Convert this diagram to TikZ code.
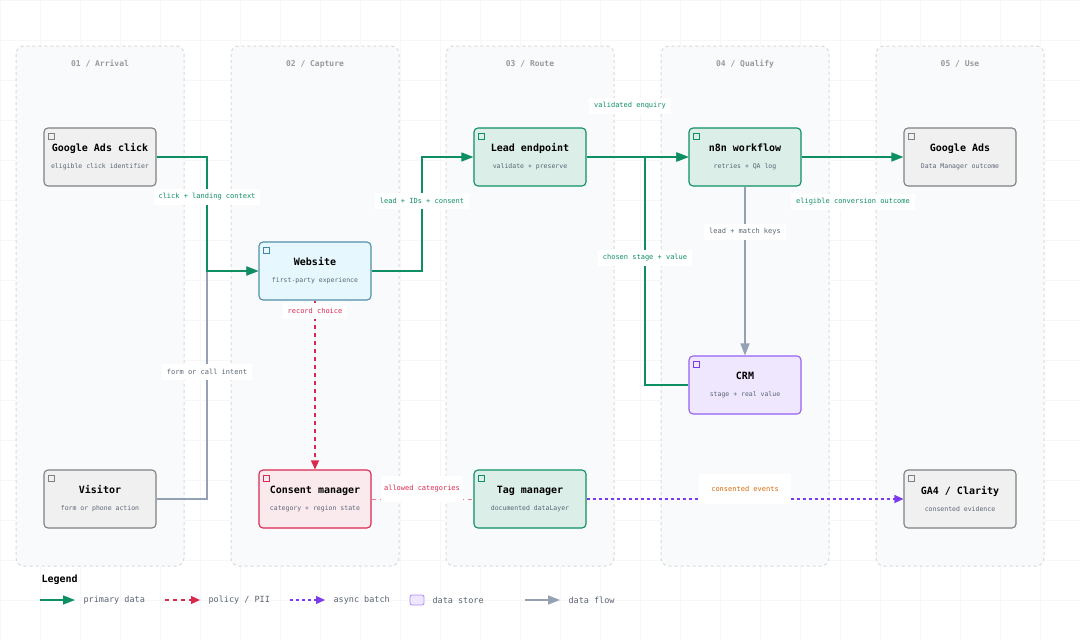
\documentclass[tikz,border=0pt]{standalone}
\usepackage{fontspec}
\setmainfont{DejaVu Sans Mono}
\usetikzlibrary{arrows.meta}
\definecolor{grn}{HTML}{0E8F62}
\definecolor{gry}{HTML}{94A0B4}
\definecolor{rd}{HTML}{D9294F}
\definecolor{pur}{HTML}{7C3AED}
\definecolor{org}{HTML}{D96A0B}
\definecolor{lanefill}{HTML}{F8FAFC}
\definecolor{sub}{HTML}{5B6474}
\tikzset{x=1pt,y=-1pt,
 lane/.style={draw=black!15,dashed,fill=lanefill,rounded corners=8pt,line width=1pt},
 lanet/.style={font=\fontsize{8}{9}\selectfont\bfseries,text=gray!80},
 box/.style={rounded corners=4pt,line width=1.1pt,minimum width=112pt,minimum height=58pt,align=center,inner sep=0pt},
 gbox/.style={box,draw=gray!75!black!80,fill=gray!12},
 wbox/.style={box,draw=cyan!60!black!90,fill=cyan!10},
 ebox/.style={box,draw=grn,fill=grn!15},
 rbox/.style={box,draw=rd,fill=rd!10},
 pbox/.style={box,draw=pur!80,fill=pur!12},
 lab/.style={fill=white,inner sep=5pt,font=\fontsize{7}{8}\selectfont},
 pri/.style={draw=grn,line width=1.4pt,-{Triangle[length=12pt,width=9pt]}},
 flow/.style={draw=gry,line width=1.3pt,-{Triangle[length=12pt,width=9pt]}},
 pol/.style={draw=rd,line width=1.2pt,dash pattern=on 4pt off 4pt,-{Triangle[length=9pt,width=8pt]}},
 asy/.style={draw=pur,line width=1.2pt,dash pattern=on 3pt off 3pt,-{Triangle[length=9pt,width=8pt]}},
}
\newcommand{\bx}[6]{\node[#1] (#2) at (#3) {\\[-4pt]{\fontsize{10}{12}\selectfont\bfseries #4}\\[5pt]{\fontsize{6.5}{7}\selectfont\color{sub}#5}};
 \draw[#6,line width=0.6pt] ([xshift=5pt,yshift=-6pt]#2.north west) rectangle ++(6,6);}
\begin{document}
\begin{tikzpicture}
\useasboundingbox (0,0) rectangle (1080,640);
\fill[white] (0,0) rectangle (1080,640);
\foreach \i in {0,40,...,1080} \draw[black!3,line width=0.5pt] (\i,0) -- (\i,640);
\foreach \i in {0,40,...,640} \draw[black!3,line width=0.5pt] (0,\i) -- (1080,\i);
\foreach \x/\n in {16/{01 / Arrival},231/{02 / Capture},446/{03 / Route},661/{04 / Qualify},876/{05 / Use}}{
 \draw[lane] (\x,46) rectangle ++(168,520);
 \node[lanet] at (\x+84,64) {\n};}
\bx{gbox}{gac}{100,157}{Google Ads click}{eligible click identifier}{gray}
\bx{wbox}{web}{315,271}{Website}{first-party experience}{cyan!60!black}
\bx{ebox}{lead}{530,157}{Lead endpoint}{validate + preserve}{grn}
\bx{ebox}{n8n}{745,157}{n8n workflow}{retries + QA log}{grn}
\bx{gbox}{gads}{960,157}{Google Ads}{Data Manager outcome}{gray}
\bx{pbox}{crm}{745,385}{CRM}{stage + real value}{pur}
\bx{gbox}{vis}{100,499}{Visitor}{form or phone action}{gray}
\bx{rbox}{con}{315,499}{Consent manager}{category + region state}{rd}
\bx{ebox}{tag}{530,499}{Tag manager}{documented dataLayer}{grn}
\bx{gbox}{ga4}{960,499}{GA4 / Clarity}{consented evidence}{gray}
\coordinate (j1) at (207,157); \coordinate (j2) at (207,271);
\coordinate (j3) at (207,499); \coordinate (j4) at (422,271); \coordinate (j5) at (422,157);
\coordinate (j6) at (645,385); \coordinate (j7) at (645,157);
\draw[flow] (vis.east) -- (j3) -- (j2) -- (web.west);
\draw[pri] (gac.east) -- (j1) -- (j2) -- (web.west);
\draw[pri] (web.east) -- (j4) -- (j5) -- (lead.west);
\draw[pri] (crm.west) -- (j6) -- (j7) -- (n8n.west);
\draw[pri] (lead.east) -- (n8n.west);
\draw[pri] (n8n.east) -- (gads.west);
\draw[flow] (n8n.south) -- (crm.north);
\draw[pol] (web.south) -- (con.north);
\draw[rd!60,line width=0.8pt,dash pattern=on 4pt off 4pt] (con.east) -- (tag.west);
\draw[asy] (tag.east) -- (ga4.west);
\node[lab,text=grn] at (207,197) {click + landing context};
\node[lab,text=sub] at (207,372) {form or call intent};
\node[lab,text=grn] at (422,201) {lead + IDs + consent};
\node[lab,text=grn] at (630,106) {validated enquiry};
\node[lab,text=grn] at (853,202) {eligible conversion outcome};
\node[lab,text=sub] at (745,232) {lead + match keys};
\node[lab,text=grn] at (645,258) {chosen stage + value};
\node[lab,text=rd] at (315,311) {record choice};
\node[lab,text=rd,inner xsep=3pt,inner ysep=10pt] at (422,489) {allowed categories};
\node[lab,text=org,inner xsep=12pt,inner ysep=12pt] at (745,489) {consented events};
\node[font=\fontsize{10}{12}\selectfont\bfseries,anchor=west] (lg) at (38,580) {Legend};
\tikzset{li/.style={font=\fontsize{8.5}{10}\selectfont,text=sub,anchor=west}}
\coordinate (a1) at (40,600); \coordinate (a2) at (75,600);
\draw[pri] (a1) -- (a2); \node[li] (l1) at (80,600) {primary data};
\coordinate (b1) at (165,600); \coordinate (b2) at (200,600);
\draw[pol] (b1) -- (b2); \node[li] (l2) at (205,600) {policy / PII};
\coordinate (c1) at (290,600); \coordinate (c2) at (325,600);
\draw[asy] (c1) -- (c2); \node[li] (l3) at (330,600) {async batch};
\node[draw=pur!60,fill=pur!12,rounded corners=2pt,minimum width=14pt,minimum height=10pt,line width=0.8pt] (ds) at (417,600) {};
\node[li] (l4) at (429,600) {data store};
\coordinate (d1) at (525,600); \coordinate (d2) at (560,600);
\draw[flow] (d1) -- (d2); \node[li] (l5) at (565,600) {data flow};
\end{tikzpicture}
\end{document}
